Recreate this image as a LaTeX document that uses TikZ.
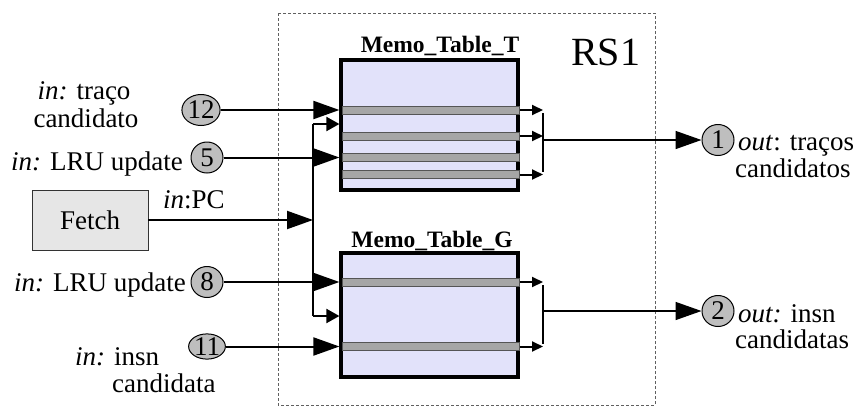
\documentclass[tikz,border=0pt]{standalone}
\usepackage{fontspec}
\setmainfont{Liberation Serif}
\usetikzlibrary{arrows.meta,shapes.geometric}

\definecolor{tablefill}{HTML}{E2E2FA}
\definecolor{barfill}{HTML}{A6A6A6}
\definecolor{baredge}{HTML}{555555}
\definecolor{portfill}{HTML}{BEBEBE}
\definecolor{fetchfill}{HTML}{E6E6E6}
\definecolor{framecol}{HTML}{606060}

\begin{document}
\begin{tikzpicture}[x=1pt,y=-1pt,
  lbl/.style={inner sep=0pt, font=\fontsize{27}{30}\selectfont},
  title/.style={inner sep=0pt, font=\fontsize{23.5}{26}\selectfont\bfseries},
  port/.style={ellipse, draw=black, line width=1pt, fill=portfill, minimum width=32pt,
               minimum height=31pt, inner sep=0pt, font=\fontsize{27}{27}\selectfont},
  memtable/.style={draw=black, line width=3.2pt, fill=tablefill, minimum width=177pt,
               minimum height=#1, inner sep=0pt},
  entry/.style={draw=baredge, line width=0.9pt, fill=barfill, minimum width=177pt,
               minimum height=8pt, inner sep=0pt},
  wire/.style={line width=2pt},
  outwire/.style={line width=1.5pt},
  bigtip/.style={-{Triangle[length=26pt,width=18pt]}},
  midtip/.style={-{Triangle[length=13pt,width=14pt]}},
  smalltip/.style={-{Triangle[length=11pt,width=10pt]}},
  frame/.style={draw=framecol, line width=0.9pt, dash pattern=on 3pt off 2pt}
]
\useasboundingbox (0,0) rectangle (864,410);

% reservation station frame
\draw[frame] (278,13) rectangle (655,405);
\node[inner sep=0pt, anchor=base west, font=\fontsize{40}{44}\selectfont] (rs) at (571,65) {RS1};

% memo tables
\node[memtable=130pt] (Tt) at (429.5,125) {};
\node[title, anchor=base] (Ttitle) at (440,52) {Memo\_Table\_T};
\node[entry] (tb1) at (431,110) {};
\node[entry] (tb2) at (431,136) {};
\node[entry] (tb3) at (431,157.5) {};
\node[entry] (tb4) at (431,174.5) {};

\node[memtable=124pt] (Gt) at (429.5,315) {};
\node[title, anchor=base] (Gtitle) at (432,247) {Memo\_Table\_G};
\node[entry] (gb1) at (431,282) {};
\node[entry] (gb2) at (431,346.5) {};

% fetch unit
\node[draw=black!80, line width=0.8pt, fill=fetchfill, minimum width=116pt, minimum height=60pt,
      inner sep=0pt, font=\fontsize{27}{30}\selectfont] (fetch) at (90,220) {Fetch};
\node[lbl, anchor=base west] (pc) at (163,208) {\textit{in}:PC};

% input ports
\node[port, minimum width=34pt, minimum height=31pt] (p12) at (201,110) {12};
\node[port] (p5) at (207,157.5) {5};
\node[port] (p8) at (207,282) {8};
\node[port, minimum width=32pt, minimum height=25pt] (p11) at (207,346.5) {11};

\node[lbl, anchor=base] (l12a) at (84,99) {\textit{in:} traço};
\node[lbl, anchor=base] (l12b) at (86,127) {candidato};
\node[lbl, anchor=base east] (l5) at (183,170) {\textit{in:} LRU update};
\node[lbl, anchor=base east] (l8) at (186,291) {\textit{in:} LRU update};
\node[lbl, anchor=base west] (l11a) at (75,365) {\textit{in:} insn};
\node[lbl, anchor=base west] (l11b) at (112,392) {candidata};

% inputs into the tables
\draw[wire, bigtip] (p12) -- (p12 -| Tt.west);
\draw[wire, bigtip] (p5) -- (p5 -| Tt.west);
\draw[wire, bigtip] (p8) -- (p8 -| Gt.west);
\draw[wire, bigtip] (p11) -- (p11 -| Gt.west);

% PC bus
\coordinate (busT) at (313,124);
\coordinate (busG) at (313,316);
\draw[wire] (busT) -- (busG);
\draw[wire, midtip] (busT) -- (busT -| Tt.west);
\draw[wire, midtip] (busG) -- (busG -| Gt.west);
\draw[wire, bigtip] (fetch.east) -- (fetch.east -| busT);

% outputs of Memo_Table_T
\coordinate (tj) at (543,140);
\draw[wire, smalltip] (tb1.east) -- (tb1.east -| tj);
\draw[wire, smalltip] (tb2.east) -- (tb2.east -| tj);
\draw[wire, smalltip] (tb4.east) -- (tb4.east -| tj);
\draw[line width=2.4pt] ([yshift=-3pt]tb1.east -| tj) -- ([yshift=3pt]tb4.east -| tj);

\node[port] (o1) at (718,140) {1};
\draw[outwire, bigtip] (tj) -- (o1.west);
\node[lbl, anchor=base west] (lo1a) at (738,150) {\textit{out}: traços};
\node[lbl, anchor=base west] (lo1b) at (735,177) {candidatos};

% outputs of Memo_Table_G
\coordinate (gj) at (543,311);
\draw[wire, smalltip] (gb1.east) -- (gb1.east -| gj);
\draw[wire, smalltip] (gb2.east) -- (gb2.east -| gj);
\draw[line width=2.4pt] ([yshift=-3pt]gb1.east -| gj) -- ([yshift=3pt]gb2.east -| gj);

\node[port] (o2) at (718,311) {2};
\draw[outwire, bigtip] (gj) -- (o2.west);
\node[lbl, anchor=base west] (lo2a) at (738,322) {\textit{out:} insn};
\node[lbl, anchor=base west] (lo2b) at (735,348) {candidatas};
\end{tikzpicture}
\end{document}
